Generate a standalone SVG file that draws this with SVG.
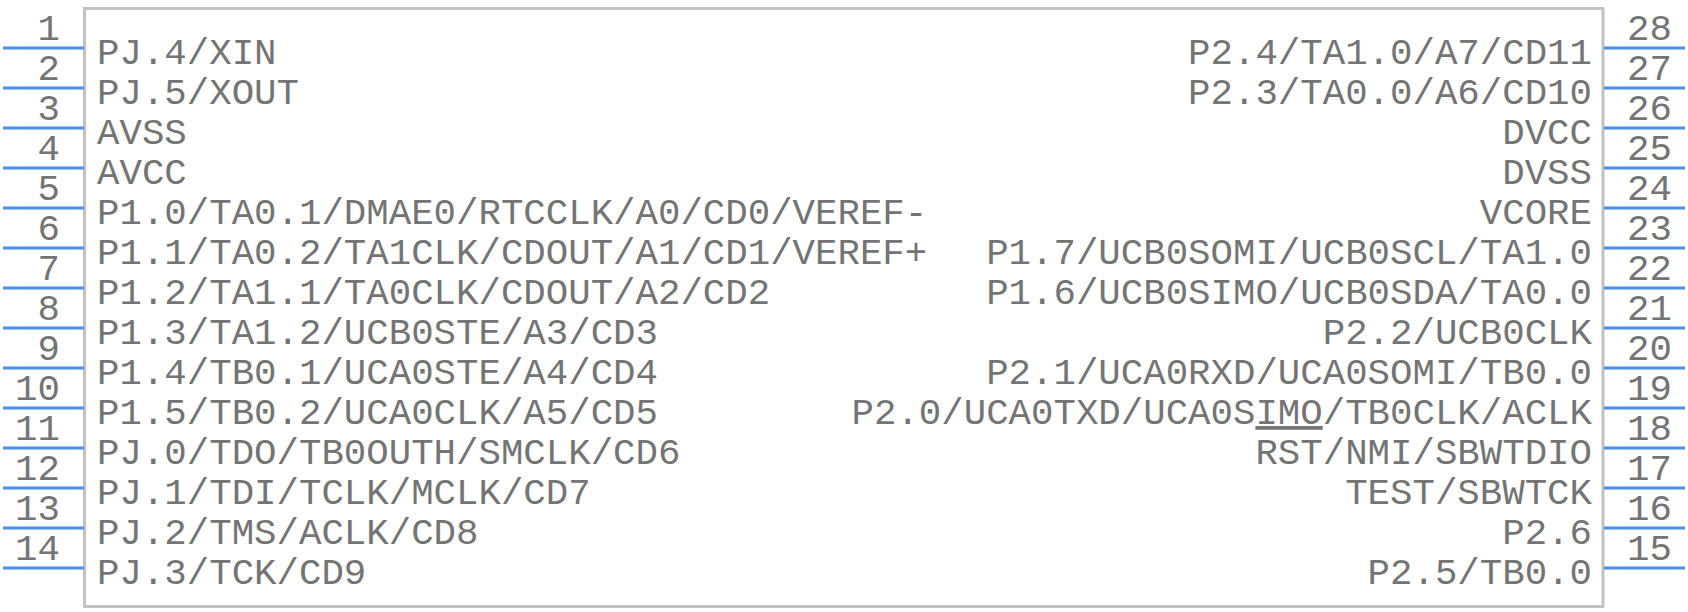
<svg xmlns="http://www.w3.org/2000/svg" width="1688" height="612" viewBox="0 0 1688 612">
<style>
.body{fill:#ffffff;stroke:#c2c2c2;stroke-width:3}
.pin{stroke:#4a8ee8;stroke-width:3.2}
.t{font-family:"Liberation Mono","Courier New",monospace;font-size:37.4px;fill:#747474}
.l{text-anchor:start}
.r{text-anchor:end}
</style>
<rect width="1688" height="612" fill="#ffffff"/>
<g id="body"><rect class="body" x="84.5" y="8.5" width="1518.5" height="598"/></g>
<g id="pins-left">
<g id="pin1"><line class="pin" x1="3" y1="48" x2="84" y2="48"/><text class="t r" x="60" y="40">1</text><text class="t l" x="97" y="64">PJ.4/XIN</text></g>
<g id="pin2"><line class="pin" x1="3" y1="88" x2="84" y2="88"/><text class="t r" x="60" y="80">2</text><text class="t l" x="97" y="104">PJ.5/XOUT</text></g>
<g id="pin3"><line class="pin" x1="3" y1="128" x2="84" y2="128"/><text class="t r" x="60" y="120">3</text><text class="t l" x="97" y="144">AVSS</text></g>
<g id="pin4"><line class="pin" x1="3" y1="168" x2="84" y2="168"/><text class="t r" x="60" y="160">4</text><text class="t l" x="97" y="184">AVCC</text></g>
<g id="pin5"><line class="pin" x1="3" y1="208" x2="84" y2="208"/><text class="t r" x="60" y="200">5</text><text class="t l" x="97" y="224">P1.0/TA0.1/DMAE0/RTCCLK/A0/CD0/VEREF-</text></g>
<g id="pin6"><line class="pin" x1="3" y1="248" x2="84" y2="248"/><text class="t r" x="60" y="240">6</text><text class="t l" x="97" y="264">P1.1/TA0.2/TA1CLK/CDOUT/A1/CD1/VEREF+</text></g>
<g id="pin7"><line class="pin" x1="3" y1="288" x2="84" y2="288"/><text class="t r" x="60" y="280">7</text><text class="t l" x="97" y="304">P1.2/TA1.1/TA0CLK/CDOUT/A2/CD2</text></g>
<g id="pin8"><line class="pin" x1="3" y1="328" x2="84" y2="328"/><text class="t r" x="60" y="320">8</text><text class="t l" x="97" y="344">P1.3/TA1.2/UCB0STE/A3/CD3</text></g>
<g id="pin9"><line class="pin" x1="3" y1="368" x2="84" y2="368"/><text class="t r" x="60" y="360">9</text><text class="t l" x="97" y="384">P1.4/TB0.1/UCA0STE/A4/CD4</text></g>
<g id="pin10"><line class="pin" x1="3" y1="408" x2="84" y2="408"/><text class="t r" x="60" y="400">10</text><text class="t l" x="97" y="424">P1.5/TB0.2/UCA0CLK/A5/CD5</text></g>
<g id="pin11"><line class="pin" x1="3" y1="448" x2="84" y2="448"/><text class="t r" x="60" y="440">11</text><text class="t l" x="97" y="464">PJ.0/TDO/TB0OUTH/SMCLK/CD6</text></g>
<g id="pin12"><line class="pin" x1="3" y1="488" x2="84" y2="488"/><text class="t r" x="60" y="480">12</text><text class="t l" x="97" y="504">PJ.1/TDI/TCLK/MCLK/CD7</text></g>
<g id="pin13"><line class="pin" x1="3" y1="528" x2="84" y2="528"/><text class="t r" x="60" y="520">13</text><text class="t l" x="97" y="544">PJ.2/TMS/ACLK/CD8</text></g>
<g id="pin14"><line class="pin" x1="3" y1="568" x2="84" y2="568"/><text class="t r" x="60" y="560">14</text><text class="t l" x="97" y="584">PJ.3/TCK/CD9</text></g>
</g>
<g id="pins-right">
<g id="pin28"><line class="pin" x1="1604" y1="48" x2="1685" y2="48"/><text class="t l" x="1627" y="40">28</text><text class="t r" x="1592" y="64">P2.4/TA1.0/A7/CD11</text></g>
<g id="pin27"><line class="pin" x1="1604" y1="88" x2="1685" y2="88"/><text class="t l" x="1627" y="80">27</text><text class="t r" x="1592" y="104">P2.3/TA0.0/A6/CD10</text></g>
<g id="pin26"><line class="pin" x1="1604" y1="128" x2="1685" y2="128"/><text class="t l" x="1627" y="120">26</text><text class="t r" x="1592" y="144">DVCC</text></g>
<g id="pin25"><line class="pin" x1="1604" y1="168" x2="1685" y2="168"/><text class="t l" x="1627" y="160">25</text><text class="t r" x="1592" y="184">DVSS</text></g>
<g id="pin24"><line class="pin" x1="1604" y1="208" x2="1685" y2="208"/><text class="t l" x="1627" y="200">24</text><text class="t r" x="1592" y="224">VCORE</text></g>
<g id="pin23"><line class="pin" x1="1604" y1="248" x2="1685" y2="248"/><text class="t l" x="1627" y="240">23</text><text class="t r" x="1592" y="264">P1.7/UCB0SOMI/UCB0SCL/TA1.0</text></g>
<g id="pin22"><line class="pin" x1="1604" y1="288" x2="1685" y2="288"/><text class="t l" x="1627" y="280">22</text><text class="t r" x="1592" y="304">P1.6/UCB0SIMO/UCB0SDA/TA0.0</text></g>
<g id="pin21"><line class="pin" x1="1604" y1="328" x2="1685" y2="328"/><text class="t l" x="1627" y="320">21</text><text class="t r" x="1592" y="344">P2.2/UCB0CLK</text></g>
<g id="pin20"><line class="pin" x1="1604" y1="368" x2="1685" y2="368"/><text class="t l" x="1627" y="360">20</text><text class="t r" x="1592" y="384">P2.1/UCA0RXD/UCA0SOMI/TB0.0</text></g>
<g id="pin19"><line class="pin" x1="1604" y1="408" x2="1685" y2="408"/><text class="t l" x="1627" y="400">19</text><text class="t r" x="1592" y="424">P2.0/UCA0TXD/UCA0S<tspan style="text-decoration:underline">IMO</tspan>/TB0CLK/ACLK</text></g>
<g id="pin18"><line class="pin" x1="1604" y1="448" x2="1685" y2="448"/><text class="t l" x="1627" y="440">18</text><text class="t r" x="1592" y="464">RST/NMI/SBWTDIO</text></g>
<g id="pin17"><line class="pin" x1="1604" y1="488" x2="1685" y2="488"/><text class="t l" x="1627" y="480">17</text><text class="t r" x="1592" y="504">TEST/SBWTCK</text></g>
<g id="pin16"><line class="pin" x1="1604" y1="528" x2="1685" y2="528"/><text class="t l" x="1627" y="520">16</text><text class="t r" x="1592" y="544">P2.6</text></g>
<g id="pin15"><line class="pin" x1="1604" y1="568" x2="1685" y2="568"/><text class="t l" x="1627" y="560">15</text><text class="t r" x="1592" y="584">P2.5/TB0.0</text></g>
</g>
<g id="connectors"/>
</svg>
